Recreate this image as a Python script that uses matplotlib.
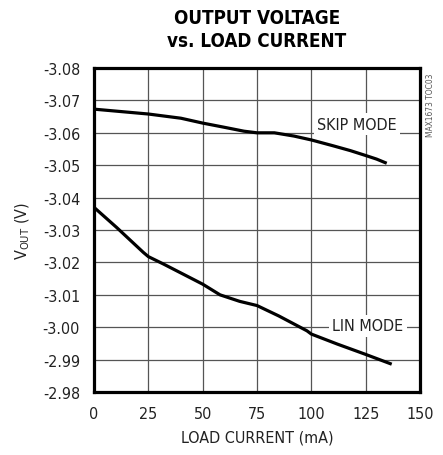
import matplotlib
matplotlib.use("Agg")
import matplotlib.pyplot as plt

# values (mA, V)
skip_current = [0, 10, 25, 40, 50, 60, 69, 75, 83, 92, 100, 110, 118, 125, 130, 134.7]
skip_vout = [-3.0673, -3.0667, -3.0658, -3.0645, -3.0630, -3.0617, -3.0605, -3.0600, -3.0600,
             -3.0590, -3.0578, -3.0560, -3.0545, -3.0530, -3.0519, -3.0506]

lin_current = [0, 10.4, 22.7, 25, 32, 41, 50, 58, 67, 75, 85, 98, 100, 112, 124.7, 137]
lin_vout = [-3.0370, -3.0308, -3.0231, -3.0218, -3.0195, -3.0164, -3.0133, -3.0100, -3.0080,
            -3.0067, -3.0035, -2.9989, -2.9979, -2.9948, -2.9917, -2.9886]

x_ticks = [0, 25, 50, 75, 100, 125, 150]
y_ticks = [-3.08, -3.07, -3.06, -3.05, -3.04, -3.03, -3.02, -3.01, -3.00, -2.99, -2.98]

plt.rcParams["font.family"] = ["DejaVu Sans"]
plt.rcParams["font.stretch"] = "condensed"
plt.rcParams["mathtext.fontset"] = "dejavusans"

TXT = "#222222"

fig = plt.figure(figsize=(4.43, 4.56), dpi=100)
ax = fig.add_axes([0.2122, 0.138, 0.7358, 0.7107])

ax.plot(skip_current, skip_vout, color="black", linewidth=2.3, solid_capstyle="butt", zorder=3)
ax.plot(lin_current, lin_vout, color="black", linewidth=2.3, solid_capstyle="butt", zorder=3)

ax.set_xlim(0, 150)
ax.set_ylim(-2.98, -3.08)
ax.set_xticks(x_ticks)
ax.set_yticks(y_ticks)
ax.set_xticklabels([str(v) for v in x_ticks])
ax.set_yticklabels([f"{v:.2f}" for v in y_ticks])
ax.tick_params(length=0, pad=10, labelsize=11.5, colors=TXT)
ax.grid(True, color="#555555", linewidth=0.9)
ax.set_axisbelow(True)
for sp in ax.spines.values():
    sp.set_linewidth(2.3)
    sp.set_color("black")
    sp.set_zorder(4)

ax.set_xlabel("LOAD CURRENT (mA)", fontsize=11.5, color=TXT, labelpad=6)
ax.set_ylabel(r"V$_{\mathregular{OUT}}$ (V)", fontsize=11.5, color=TXT, labelpad=8)

box = dict(facecolor="white", edgecolor="none", pad=2.5)
ax.text(121, -3.0627, "SKIP MODE", fontsize=11.5, ha="center", va="center", color=TXT,
        bbox=box, zorder=2)
ax.text(126, -3.0005, "LIN MODE", fontsize=11.5, ha="center", va="center", color=TXT,
        bbox=box, zorder=2)

fig.text(0.58, 0.96, "OUTPUT VOLTAGE", fontsize=13.5, fontweight="bold", ha="center", va="center")
fig.text(0.58, 0.908, "vs. LOAD CURRENT", fontsize=13.5, fontweight="bold", ha="center", va="center")
fig.text(0.971, 0.77, "MAX1673 TOC03", fontsize=6, rotation=90, ha="center", va="center", color="#555555")

fig.savefig("out.png", dpi=100)
